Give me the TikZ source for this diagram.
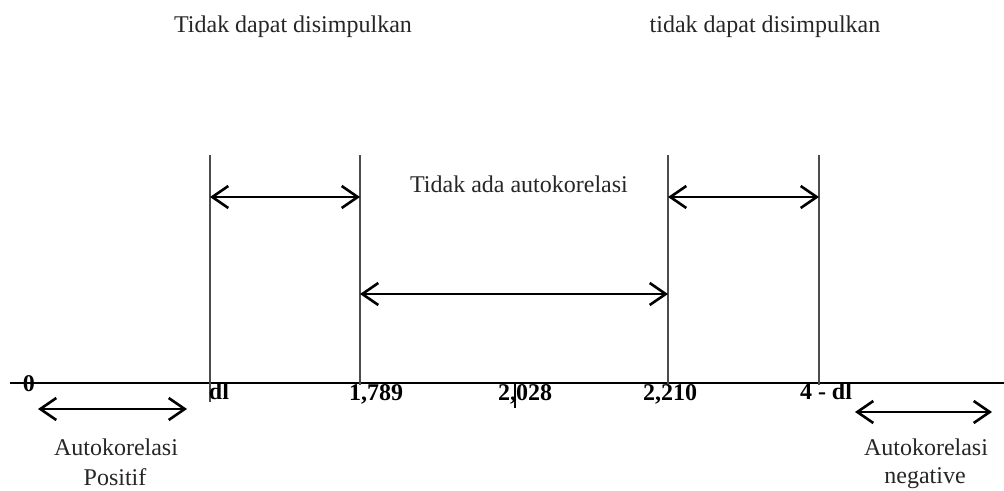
\documentclass[tikz,border=0pt]{standalone}
\usepackage{fontspec}
\setmainfont{Liberation Serif}
\usetikzlibrary{arrows.meta}
\begin{document}
\begin{tikzpicture}[x=1pt,y=-1pt,
  lbl/.style={font=\fontsize{24}{26}\selectfont, text=black!85, inner sep=0pt, anchor=base},
  num/.style={font=\bfseries\fontsize{24}{26}\selectfont, inner sep=0pt, anchor=base},
  vline/.style={line width=1.3pt, draw=black!70},
  darrow/.style={line width=2pt, {Straight Barb[length=16pt,width=22pt,line width=2.6pt]}-{Straight Barb[length=16pt,width=22pt,line width=2.6pt]}}]
\useasboundingbox (0,0) rectangle (1004,490);
% axis
\coordinate (axL) at (10,383);
\coordinate (axR) at (1004,383);
\draw[line width=2.5pt] (axL) -- (axR);
% vertical lines
\coordinate (v1t) at (210,155); \coordinate (v1b) at (210,402);
\coordinate (v2t) at (360,155); \coordinate (v2b) at (360,385);
\coordinate (v3t) at (668,155); \coordinate (v3b) at (668,385);
\coordinate (v4t) at (819,155); \coordinate (v4b) at (819,385);
\coordinate (tkt) at (515,383); \coordinate (tkb) at (515,408);
\draw[vline] (v1t) -- (v1b);
\draw[vline] (v2t) -- (v2b);
\draw[vline] (v3t) -- (v3b);
\draw[vline] (v4t) -- (v4b);
\draw[line width=1.5pt] (tkt) -- (tkb);
% arrows
\coordinate (a1l) at (210,197); \coordinate (a1r) at (360,197);
\coordinate (a2l) at (668,197); \coordinate (a2r) at (819,197);
\coordinate (a3l) at (360,294); \coordinate (a3r) at (668,294);
\coordinate (a4l) at (38,409); \coordinate (a4r) at (187,409);
\coordinate (a5l) at (855,412); \coordinate (a5r) at (992,412);
\draw[darrow] (a1l) -- (a1r);
\draw[darrow] (a2l) -- (a2r);
\draw[darrow] (a3l) -- (a3r);
\draw[darrow] (a4l) -- (a4r);
\draw[darrow] (a5l) -- (a5r);
% texts
\node[lbl] (t1) at (293,32) {Tidak dapat disimpulkan};
\node[lbl] (t2) at (765,32) {tidak dapat disimpulkan};
\node[lbl] (t3) at (519,192) {Tidak ada autokorelasi};
\node[lbl] (t4) at (116,455) {Autokorelasi};
\node[lbl] (t5) at (115,485) {Positif};
\node[lbl] (t6) at (926,455) {Autokorelasi};
\node[lbl] (t7) at (925,483) {negative};
% numbers
\node[num] (n0) at (29,391) {0};
\node[num] (n1) at (219,399) {dl};
\node[num] (n2) at (376,400) {1,789};
\node[num] (n3) at (525,400) {2,028};
\node[num] (n4) at (670,400) {2,210};
\node[num] (n5) at (826,399) {4 - dl};
\end{tikzpicture}
\end{document}
